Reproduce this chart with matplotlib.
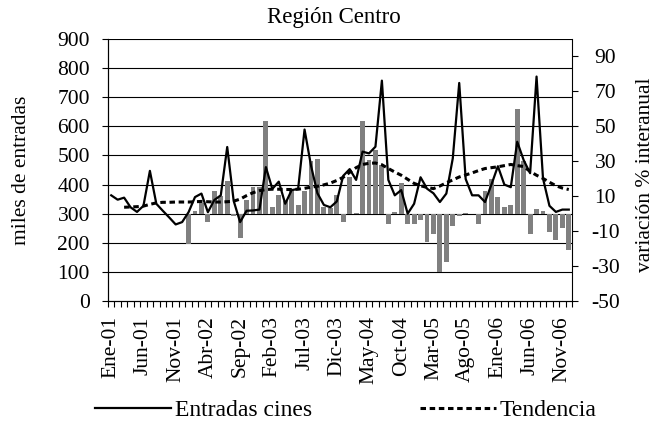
import numpy as np
import matplotlib
matplotlib.use('Agg')
import matplotlib.pyplot as plt

plt.rcParams['font.family'] = ['Liberation Serif', 'DejaVu Serif']
plt.rcParams['axes.unicode_minus'] = False

# meses Ene-01 .. Dic-06
meses = ['Ene', 'Feb', 'Mar', 'Abr', 'May', 'Jun', 'Jul', 'Ago', 'Sep', 'Oct', 'Nov', 'Dic']
anios = ['01', '02', '03', '04', '05', '06']
etiquetas = [m + '-' + a for a in anios for m in meses]

# miles de entradas
entradas = [363, 348, 355, 322, 306, 327, 447, 334, 310, 287, 263, 271,
            305, 357, 369, 305, 347, 363, 529, 344, 271, 310, 311, 314,
            460, 385, 410, 334, 381, 385, 589, 465, 370, 330, 322, 342,
            430, 453, 416, 513, 507, 530, 757, 416, 363, 381, 300, 334,
            425, 386, 370, 340, 369, 490, 749, 419, 363, 363, 340, 400,
            463, 400, 391, 547, 484, 439, 771, 421, 327, 306, 314, 314]

tendencia = [np.nan, np.nan, 322, 323, 324, 326, 332, 337, 339, 339, 340, 340,
             340, 341, 342, 341, 340, 340, 341, 343, 350, 362, 372, 379,
             383, 384, 384, 383, 383, 384, 387, 391, 394, 399, 405, 414,
             425, 442, 458, 469, 473, 474, 468, 455, 443, 432, 418, 404,
             396, 390, 386, 395, 406, 416, 426, 433, 440, 448, 455, 458,
             461, 465, 469, 465, 462, 445, 432, 421, 408, 396, 388, 383]

# variación % interanual (desde Ene-02)
variacion = [-17.2, 1.5, 6.1, -4.8, 12.8, 10.3, 18.7, -1.4, -13.8, 8.1, 15.2, 15.2,
             53.2, 3.8, 10.5, 7.5, 13.4, 4.8, 12.8, 30.0, 31.2, 3.8, 3.5, 10.5,
             -4.8, 20.8, 0.5, 53.0, 31.0, 36.4, 27.8, -6.0, 1.2, 17.4, -6.0, -6.0,
             -3.4, -16.3, -11.7, -33.4, -27.6, -7.1, -1.4, 0.5, 0.0, -6.0, 12.9, 19.7,
             9.5, 3.8, 5.0, 60.0, 30.0, -11.8, 2.5, 1.3, -10.6, -15.3, -8.0, -21.0]

izq_ticks = list(range(0, 1000, 100))
der_ticks = list(range(-50, 100, 20))

fs = 15.5
x = np.arange(len(entradas))

fig = plt.figure(figsize=(6.59, 4.21), dpi=100)
ax = fig.add_axes([108/659, 120/421, 464/659, 262/421])
ax2 = ax.twinx()
ax.set_zorder(ax2.get_zorder() + 1)
ax.patch.set_visible(False)

# gridlines behind the bars
ax2.hlines(izq_ticks[1:], 0, 1, transform=ax.get_yaxis_transform(),
           colors='black', lw=0.8, zorder=0)

ax2.bar(x[12:], variacion, width=0.75, color='#808080', zorder=2)

ax.plot(x, entradas, color='black', lw=1.6, label='Entradas cines')
ax.plot(x, tendencia, color='black', lw=2.2, linestyle=(0, (1.8, 1.2)),
        label='Tendencia')

ax.set_xlim(-0.5, len(x) - 0.5)
ax.set_ylim(0, 900)
ax2.set_ylim(-50, 100)

ax.set_yticks(izq_ticks)
ax.set_yticklabels([str(v) for v in izq_ticks])
ax2.set_yticks(der_ticks)
ax2.set_yticklabels([str(v) for v in der_ticks])

ax.set_xticks(x[::5])
ax.set_xticklabels(etiquetas[::5], rotation=90)
ax.set_xticks(np.arange(-0.5, len(x), 1), minor=True)
ax.tick_params(axis='x', which='major', length=0, pad=11, labelsize=fs)
ax.tick_params(axis='x', which='minor', length=4, width=0.8, direction='out')
ax.tick_params(axis='y', length=4, width=0.8, direction='out', pad=9, labelsize=fs)
ax2.tick_params(axis='y', length=4, width=0.8, direction='out', pad=20, labelsize=fs)
for t in ax2.get_yticklabels():
    t.set_ha('center')

for a in (ax, ax2):
    a.spines['top'].set_visible(False)
    for s in a.spines.values():
        s.set_color('black')
        s.set_linewidth(0.8)
ax.spines['right'].set_visible(False)

fig.text(334/659, 1 - 18/421, 'Región Centro', ha='center', va='center', fontsize=16.5)
fig.text(22/659, 1 - 170/421, 'miles de entradas', rotation=90,
         ha='center', va='center', fontsize=fs)
fig.text(646/659, 1 - 175/421, 'variación % interanual', rotation=90,
         ha='center', va='center', fontsize=fs)

h, l = ax.get_legend_handles_labels()
fig.legend(h, l, loc='lower left', bbox_to_anchor=(95/659, 0.0), ncol=2,
           frameon=False, handlelength=3.2, handletextpad=0.17,
           columnspacing=4.6, borderpad=0.0, borderaxespad=0.0, fontsize=17)

fig.savefig('out.png', dpi=100)
